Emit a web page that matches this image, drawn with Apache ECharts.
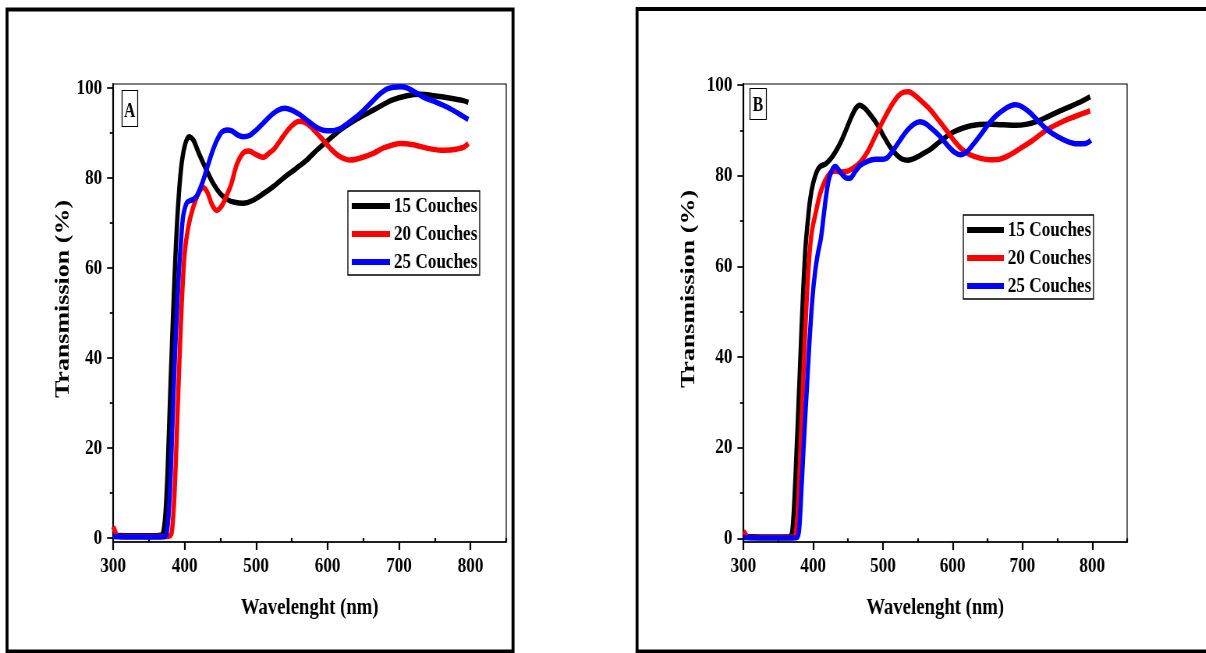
<!DOCTYPE html>
<html><head><meta charset="utf-8">
<script src="https://cdn.jsdelivr.net/npm/echarts@6/dist/echarts.min.js"></script>
<style>
html,body{margin:0;padding:0;width:1206px;height:653px;overflow:hidden;background:#fff;}
#c{width:1546px;height:653px;transform:scaleX(0.78);transform-origin:0 0;}
</style></head><body><div id="c"></div>
<script>
const xMajor = [300, 400, 500, 600, 700, 800];
const xMinor = [350, 450, 550, 650, 750, 850];
const yMajor = [0, 20, 40, 60, 80, 100];
const yMinor = [10, 30, 50, 70, 90];
const seriesNames = ['15 Couches', '20 Couches', '25 Couches'];
const colors = ['#000000', '#ff0000', '#0000ff'];

const a15 = [[300,0.6],[320,0.5],[340,0.5],[360,0.5],[367,0.6],[370,1.2],[373,5],[376,14],[379,28],[383,46],[387,62],[391,74],[395,82],[400,87],[406,89.2],[412,88.5],[420,85.5],[430,82],[440,78.8],[450,76.5],[460,75.2],[470,74.6],[482,74.4],[495,75],[510,76.5],[525,78.2],[540,80.2],[555,82],[571,84],[585,86.2],[600,88.3],[618,90.7],[640,93],[664,95.1],[690,97.3],[711,98.3],[730,98.6],[748,98.3],[770,97.8],[790,97.2],[797,96.8]];
const a20 = [[300,2.5],[302,1.8],[305,0.6],[310,0.3],[340,0.3],[370,0.3],[379,0.4],[382,1.2],[385,7],[388,18],[392,36],[396,52],[400,63],[405,69],[412,73.5],[420,76.8],[426,77.9],[432,76.8],[438,74.2],[445,72.8],[452,73.8],[458,75.8],[465,78.5],[473,83],[482,85.6],[490,86],[500,85.2],[510,84.6],[518,85.5],[525,86.4],[535,88.6],[545,90.8],[555,92.3],[562,92.6],[572,92],[582,90.5],[594,88.4],[605,86.4],[617,84.8],[632,84],[645,84.4],[664,85.5],[680,86.8],[702,87.7],[720,87.4],[740,86.6],[758,86.2],[775,86.3],[790,86.8],[797,87.7]];
const a25 = [[300,0.3],[320,0.2],[360,0.2],[372,0.3],[375,1.2],[378,6],[381,16],[384,30],[388,46],[392,59],[395,66],[398,71.5],[403,74.5],[408,75],[413,75.3],[418,76.3],[425,79],[431,82],[438,85.5],[445,88.3],[452,90.2],[459,90.7],[466,90.5],[474,89.6],[482,89.2],[490,89.4],[500,90.6],[510,92.2],[520,93.8],[530,95],[540,95.5],[550,95.1],[560,94.2],[571,92.9],[582,91.5],[592,90.7],[600,90.5],[610,90.6],[620,91.2],[632,92.6],[646,94.4],[660,96.6],[672,98.5],[683,99.8],[692,100.2],[702,100.3],[712,100],[722,99.1],[734,98],[750,97],[767,95.8],[785,94.2],[797,93]];

const b15 = [[300,0.4],[330,0.3],[360,0.3],[367,0.4],[370,1.5],[373,8],[377,22],[381,37],[385,52],[389,64],[393,71],[396,75],[400,78.3],[405,80.8],[410,82],[418,82.6],[424,83.5],[431,85],[439,87.2],[447,90],[455,93],[461,94.8],[467,95.5],[473,95],[480,93.8],[491,91.5],[500,89],[510,86.4],[520,84.5],[528,83.6],[536,83.4],[545,83.8],[556,84.7],[568,85.8],[580,87.3],[591,88.6],[601,89.6],[615,90.5],[635,91.2],[655,91.3],[673,91.2],[690,91.1],[705,91.3],[720,91.9],[735,92.9],[750,94],[768,95.2],[785,96.4],[797,97.4]];
const b20 = [[300,1.5],[302,1.2],[305,0.4],[310,0.2],[350,0.2],[372,0.3],[375,1],[378,6],[382,20],[386,36],[390,50],[394,61],[398,67.5],[404,72],[410,76],[417,78.8],[424,80.5],[432,81],[440,80.8],[448,80.9],[456,81.5],[464,82.4],[472,83.8],[480,85.8],[490,89],[501,92.3],[512,95.4],[522,97.6],[530,98.4],[537,98.5],[545,97.8],[556,96.3],[568,94.5],[580,92.2],[591,90],[601,87.9],[612,86],[625,84.6],[640,83.8],[654,83.5],[667,83.6],[680,84.4],[697,86],[715,87.8],[735,90.1],[752,91.5],[768,92.6],[785,93.6],[797,94.3]];
const b25 = [[300,0.2],[330,0.1],[370,0.1],[377,0.2],[380,2],[383,10],[387,22],[391,33],[395,44],[399,53],[403,59],[407,63],[411,66],[415,71],[419,76],[423,79.5],[428,81.5],[432,82],[437,81.2],[443,80],[449,79.4],[454,79.5],[460,80.8],[467,82.2],[477,83.1],[490,83.6],[500,83.6],[506,83.9],[514,85.4],[525,87.9],[535,90],[545,91.4],[553,91.9],[561,91.5],[571,90.2],[582,88.6],[593,86.6],[603,85.1],[611,84.6],[620,85.2],[630,87],[640,89],[652,91.5],[663,93.3],[673,94.5],[682,95.3],[690,95.6],[698,95.3],[710,94],[721,92.3],[735,90.2],[750,88.6],[765,87.5],[778,87],[788,87],[795,87.4],[798,87.8]];

const FF = '"Liberation Serif","Times New Roman",serif';
const txt = (size) => ({fontFamily: FF, fontWeight: 'bold', fontSize: size, color: '#000'});

function xAxes(gi) {
  return [
    {type:'value', gridIndex:gi, min:300, max:850, position:'bottom',
     axisLine:{show:true, onZero:false, lineStyle:{color:'#000', width:1.7}},
     axisTick:{show:true, inside:false, length:8, customValues:xMajor, lineStyle:{color:'#000', width:2.2}},
     axisLabel:Object.assign({customValues:xMajor, margin:13}, txt(22)),
     splitLine:{show:false},
     name:'Wavelenght (nm)', nameLocation:'middle', nameGap:54, nameTextStyle:txt(24)},
    {type:'value', gridIndex:gi, min:300, max:850, position:'bottom',
     axisLine:{show:false},
     axisTick:{show:true, inside:false, length:4, customValues:xMinor, lineStyle:{color:'#000', width:2.2}},
     axisLabel:{show:false}, splitLine:{show:false}}
  ];
}
function yAxes(gi, ymin, ymax, gap, pad) {
  return [
    {type:'value', gridIndex:gi, min:ymin, max:ymax, position:'left',
     axisLine:{show:true, onZero:false, lineStyle:{color:'#000', width:2.2}},
     axisTick:{show:true, inside:false, length:7.7, customValues:yMajor, lineStyle:{color:'#000', width:1.7}},
     axisLabel:Object.assign({customValues:yMajor, margin:14}, txt(22)),
     splitLine:{show:false},
     name:'Transmission (%)', nameLocation:'middle', nameGap:gap, nameRotate:90,
     nameTextStyle:Object.assign({padding:[0,0,0,pad]}, txt(26))},
    {type:'value', gridIndex:gi, min:ymin, max:ymax, position:'left',
     axisLine:{show:false},
     axisTick:{show:true, inside:false, length:4.3, customValues:yMinor, lineStyle:{color:'#000', width:1.7}},
     axisLabel:{show:false}, splitLine:{show:false}}
  ];
}
function mkSeries(data, i, axisIdx) {
  return {type:'line', name:seriesNames[i], xAxisIndex:axisIdx, yAxisIndex:axisIdx, data:data,
    showSymbol:false, symbol:'none', smooth:0.3, animation:false,
    lineStyle:{color:colors[i], width:5.5}, itemStyle:{color:colors[i]}};
}
function mkLegend(left, top, iw) {
  return {data:seriesNames, orient:'vertical', left:left, top:top, icon:'rect',
    itemWidth:iw, itemHeight:6, itemGap:6, padding:[4,3,2,5],
    borderColor:'#000', borderWidth:1.3, backgroundColor:'#fff',
    textStyle:txt(22), selectedMode:false};
}

const chart = echarts.init(document.getElementById('c'));
chart.setOption({
  backgroundColor:'#fff',
  animation:false,
  grid:[
    {left:145, top:84, width:504, height:458, show:true, borderColor:'#000', borderWidth:1.2, containLabel:false},
    {left:953, top:84, width:492, height:458, show:true, borderColor:'#000', borderWidth:1.2, containLabel:false}
  ],
  xAxis: xAxes(0).concat(xAxes(1)),
  yAxis: yAxes(0, -0.9, 100.9, 51, 28).concat(yAxes(1, -0.8, 100.2, 57, 48)),
  legend:[mkLegend(446, 191, 49), mkLegend(1235, 215, 47)],
  title:[
    {text:'A', left:156, top:90, padding:[12,3,5,3], borderColor:'#000', borderWidth:1.2, textStyle:txt(20)},
    {text:'B', left:961, top:88, padding:[8,4,4,4], borderColor:'#000', borderWidth:1.2, textStyle:txt(20)}
  ],
  graphic:[
    {type:'rect', silent:true, shape:{x:9, y:9.5, width:648.7, height:642}, style:{fill:'none', stroke:'#000', lineWidth:3.8}},
    {type:'rect', silent:true, shape:{x:816.7, y:9, width:743, height:642.5}, style:{fill:'none', stroke:'#000', lineWidth:3.8}}
  ],
  series:[
    mkSeries(a15,0,0), mkSeries(a20,1,0), mkSeries(a25,2,0),
    mkSeries(b15,0,2), mkSeries(b20,1,2), mkSeries(b25,2,2)
  ]
});
</script></body></html>
